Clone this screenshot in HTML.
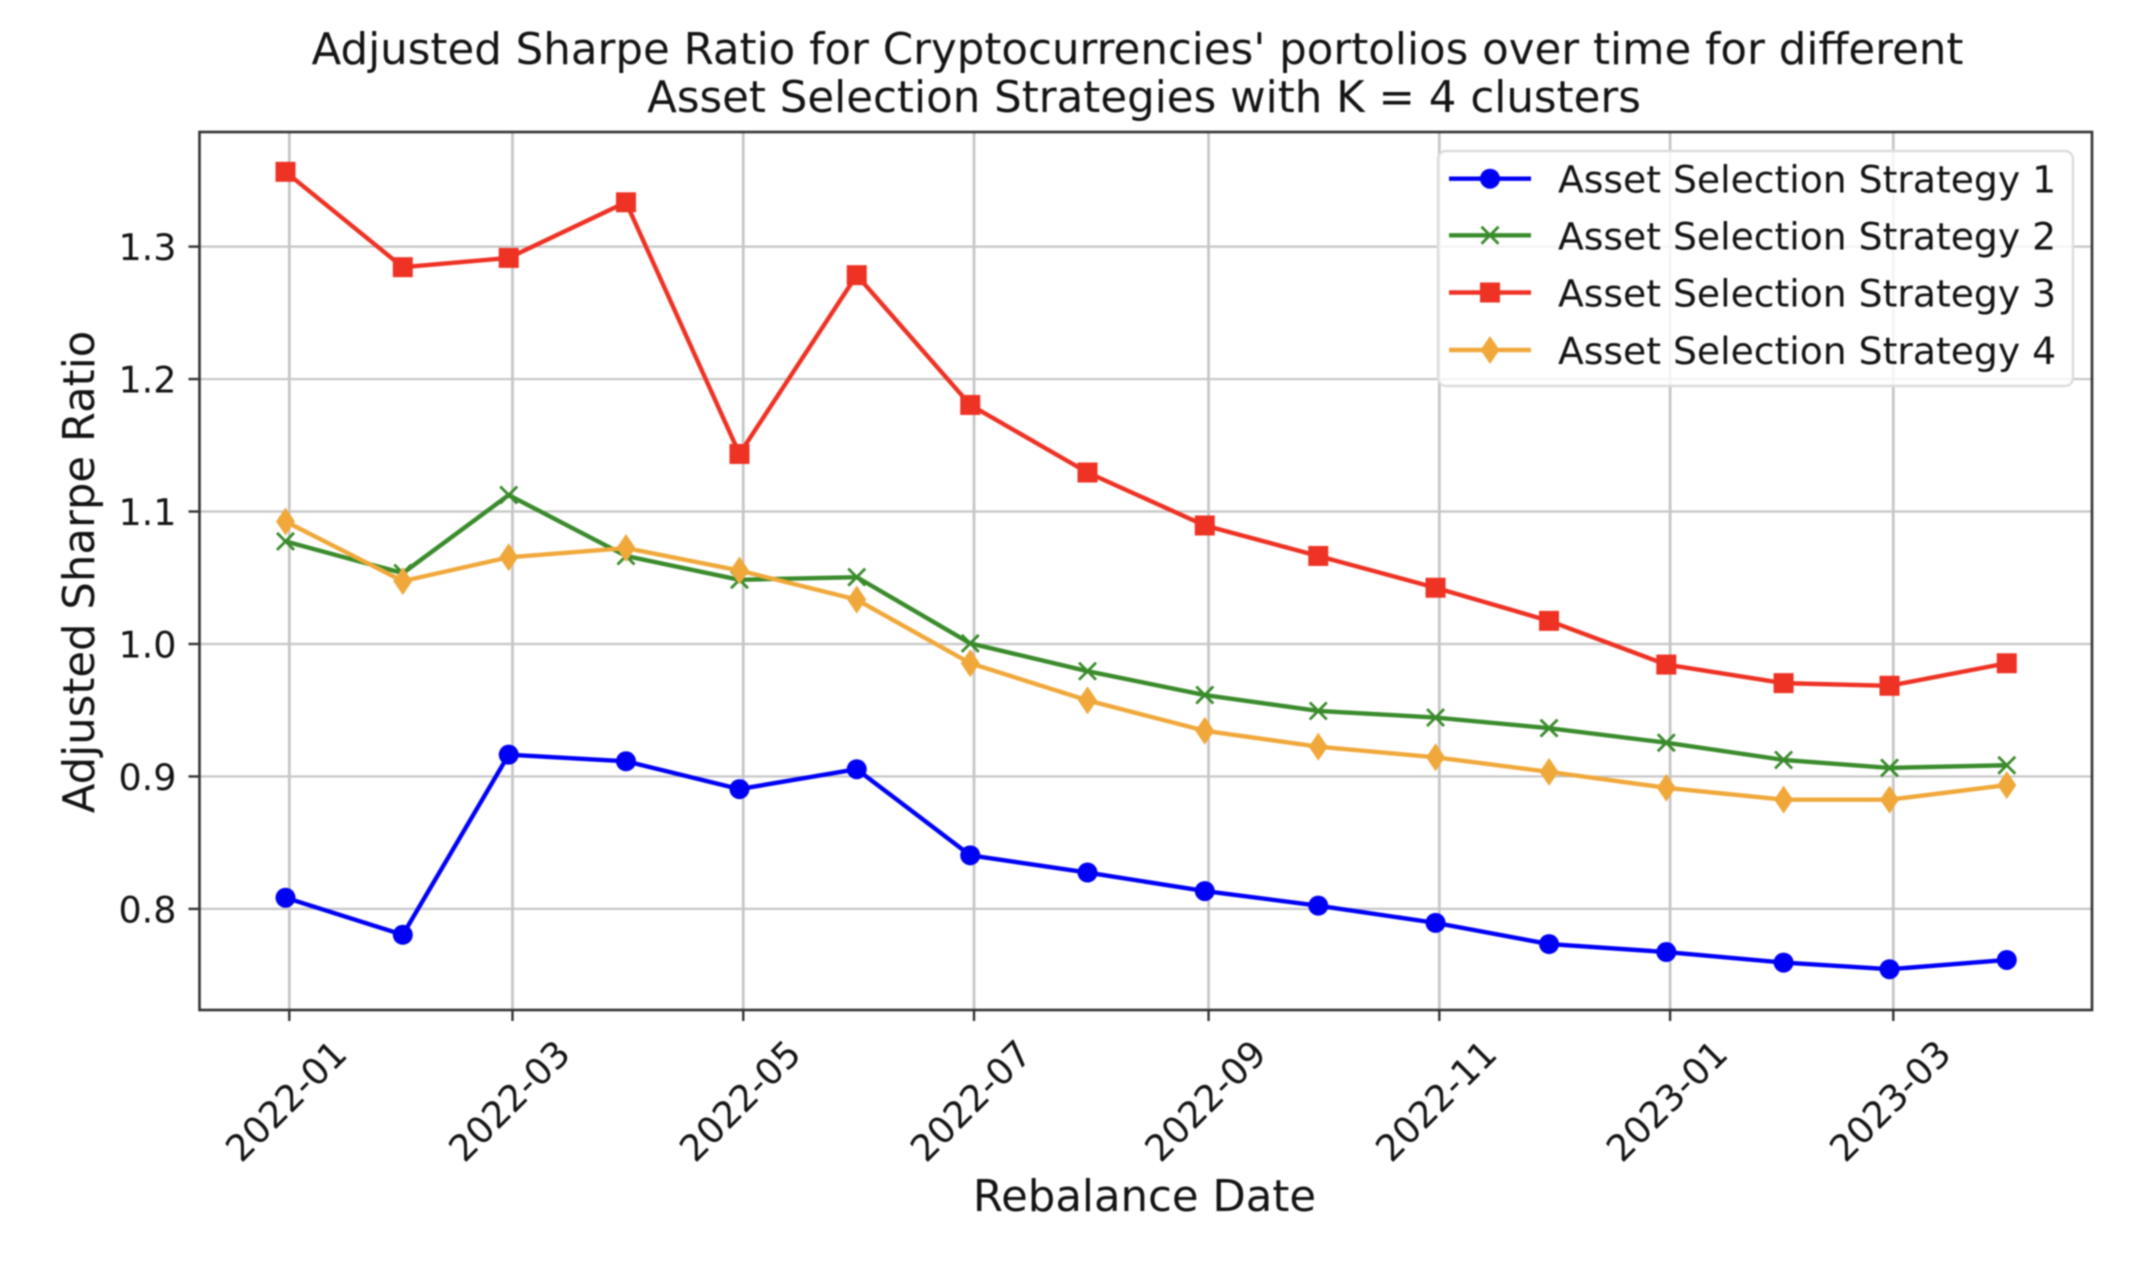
<!DOCTYPE html>
<html lang="en">
<head>
<meta charset="utf-8">
<title>Adjusted Sharpe Ratio chart</title>
<style>
  html, body { margin: 0; padding: 0; background: #ffffff; }
  body { width: 2155px; height: 1264px; overflow: hidden; }
  svg { display: block; filter: blur(0.9px); font-family: "DejaVu Sans", "Liberation Sans", sans-serif; }
  text { fill: #141414; }
</style>
</head>
<body>
<svg id="chart" xmlns="http://www.w3.org/2000/svg" width="2155" height="1264" viewBox="0 0 2155 1264">
  <rect x="0" y="0" width="2155" height="1264" fill="#ffffff"/>
  <text x="1137.5" y="64" font-size="43.5" text-anchor="middle">Adjusted Sharpe Ratio for Cryptocurrencies' portolios over time for different</text>
  <text x="1144" y="112" font-size="43.5" text-anchor="middle">Asset Selection Strategies with K = 4 clusters</text>
  <text x="0" y="0" font-size="43.4" text-anchor="middle" transform="translate(94 572) rotate(-90)">Adjusted Sharpe Ratio</text>
  <text x="1144.5" y="1211" font-size="43.4" text-anchor="middle">Rebalance Date</text>
  <g id="grid"></g>
  <g id="ticks"></g>
  <g id="series"></g>
  <rect x="199.5" y="132" width="1892.5" height="878" fill="none" stroke="#333333" stroke-width="2.6"/>
  <g id="legend"></g>
</svg>
<script>
const categories = ["2021-12-31","2022-01-31","2022-02-28","2022-03-31","2022-04-30","2022-05-31","2022-06-30","2022-07-31","2022-08-31","2022-09-30","2022-10-31","2022-11-30","2022-12-31","2023-01-31","2023-02-28","2023-03-31"];
const strategy1 = [0.808,0.780,0.916,0.911,0.890,0.905,0.840,0.827,0.813,0.802,0.789,0.773,0.767,0.759,0.754,0.761];
const strategy2 = [1.077,1.053,1.112,1.066,1.048,1.050,1.000,0.979,0.961,0.949,0.944,0.936,0.925,0.912,0.906,0.908];
const strategy3 = [1.356,1.284,1.291,1.333,1.143,1.278,1.180,1.129,1.089,1.066,1.042,1.017,0.984,0.970,0.968,0.985];
const strategy4 = [1.092,1.047,1.065,1.072,1.055,1.033,0.985,0.957,0.934,0.922,0.914,0.903,0.891,0.882,0.882,0.893];
const xTickLabels = ["2022-01","2022-03","2022-05","2022-07","2022-09","2022-11","2023-01","2023-03"];
const yTickLabels = ["0.8","0.9","1.0","1.1","1.2","1.3"];
const seriesNames = ["Asset Selection Strategy 1","Asset Selection Strategy 2","Asset Selection Strategy 3","Asset Selection Strategy 4"];

const NS = "http://www.w3.org/2000/svg";
const PLOT = { left: 199.5, right: 2092, top: 132, bottom: 1010 };
const DAY = 86400000;
const EPOCH = Date.parse("2022-01-01");

function xScale(dateStr) {
  const days = (Date.parse(dateStr) - EPOCH) / DAY;
  return 289.3 + days * 3.783;
}
function yScale(v) {
  return 908.3 - (v - 0.8) * 1324.6;
}
function make(tag, attrs, parent) {
  const el = document.createElementNS(NS, tag);
  for (const k in attrs) el.setAttribute(k, attrs[k]);
  parent.appendChild(el);
  return el;
}

const gridG = document.getElementById("grid");
const ticksG = document.getElementById("ticks");
const seriesG = document.getElementById("series");
const legendG = document.getElementById("legend");

xTickLabels.forEach(function (label) {
  const x = xScale(label + "-01");
  const g = make("line", { x1: x, x2: x, y1: PLOT.top, y2: PLOT.bottom, stroke: "#c6c6c6", "stroke-width": 2.8 }, gridG);
  
  
  const t = make("line", { x1: x, x2: x, y1: PLOT.bottom, y2: PLOT.bottom + 11, stroke: "#333333", "stroke-width": 2.4 }, ticksG);
  
  
  const txt = make("text", { x: 0, y: 0, "font-size": 36.5, "text-anchor": "middle", "dominant-baseline": "central", transform: "translate(" + (x - 3) + " 1101) rotate(-45)" }, ticksG);
  txt.textContent = label;
  
  
});

yTickLabels.forEach(function (label) {
  const y = yScale(parseFloat(label)) + 0.6;
  const g = make("line", { x1: PLOT.left, x2: PLOT.right, y1: y, y2: y, stroke: "#c6c6c6", "stroke-width": 2.2 }, gridG);
  
  
  const t = make("line", { x1: PLOT.left - 11, x2: PLOT.left, y1: y, y2: y, stroke: "#333333", "stroke-width": 2.4 }, ticksG);
  
  
  const txt = make("text", { x: 176.5, y: y + 13.5, "font-size": 36.5, "text-anchor": "end" }, ticksG);
  txt.textContent = label;
  
  
});

function drawMarker(kind, color, x, y, parent) {
  let el;
  if (kind === "circle") {
    el = make("circle", { cx: x, cy: y, r: 10, fill: color }, parent);
  } else if (kind === "cross") {
    el = make("path", { d: "M" + (x - 8.5) + " " + (y - 8.5) + "L" + (x + 8.5) + " " + (y + 8.5) + "M" + (x - 8.5) + " " + (y + 8.5) + "L" + (x + 8.5) + " " + (y - 8.5), fill: "none", stroke: color, "stroke-width": 2.8 }, parent);
  } else if (kind === "square") {
    el = make("rect", { x: x - 10, y: y - 10, width: 20, height: 20, fill: color }, parent);
  } else {
    el = make("path", { d: "M" + x + " " + (y - 14) + "L" + (x + 9.5) + " " + y + "L" + x + " " + (y + 14) + "L" + (x - 9.5) + " " + y + "Z", fill: color }, parent);
  }
  
  
  return el;
}

const seriesValues = [strategy1, strategy2, strategy3, strategy4];
const seriesColors = ["#0000f5", "#3a8b2c", "#ee3224", "#f0a83a"];
const seriesMarkers = ["circle", "cross", "square", "diamond"];

seriesValues.forEach(function (values, i) {
  const g = make("g", {}, seriesG);
  
  
  const pts = values.map(function (v, j) { return xScale(categories[j]).toFixed(2) + "," + yScale(v).toFixed(2); }).join(" ");
  const line = make("polyline", { points: pts, fill: "none", stroke: seriesColors[i], "stroke-width": 4.4, "stroke-linejoin": "round" }, g);
  
  
  values.forEach(function (v, j) {
    drawMarker(seriesMarkers[i], seriesColors[i], xScale(categories[j]), yScale(v), g);
  });
});

const box = make("rect", { x: 1446, y: 151, width: 635, height: 235, rx: 8, ry: 8, fill: "#ffffff", "fill-opacity": 0.8, stroke: "#dcdcdc", "stroke-width": 2.4 }, legendG);
box.setAttribute('x', '1438');


const legendRows = [178.7, 235.3, 292.5, 350];
seriesNames.forEach(function (name, i) {
  const g = make("g", {}, legendG);
  
  
  const y = legendRows[i];
  const l = make("line", { x1: 1449, x2: 1531, y1: y, y2: y, stroke: seriesColors[i], "stroke-width": 4.4 }, g);
  
  
  drawMarker(seriesMarkers[i], seriesColors[i], 1490, y, g);
  const t = make("text", { x: 1558, y: y + 14, "font-size": 37.7 }, g);
  t.textContent = name;
  
  
});
</script>
</body>
</html>
